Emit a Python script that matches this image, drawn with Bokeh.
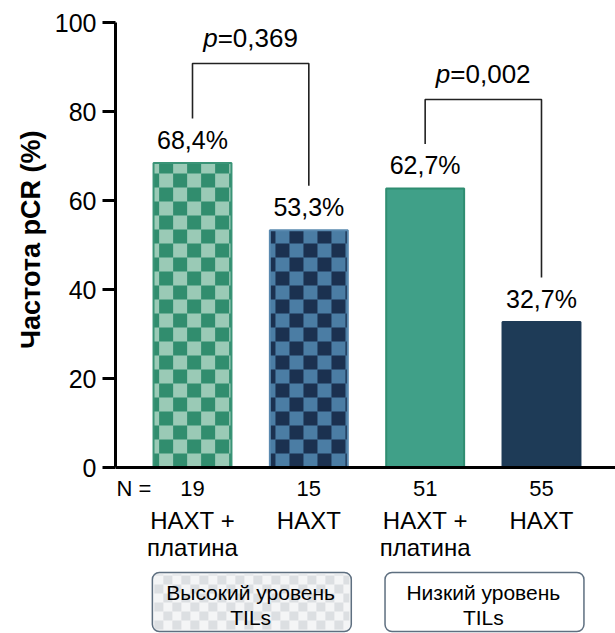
from bokeh.plotting import figure
from bokeh.models import Range1d, FixedTicker, Span, Title
from bokeh.core.properties import value
from bokeh.embed import file_html
from bokeh.resources import INLINE

# ---------------- data ----------------
bar_pos = [1, 2, 3, 4]
n_values = [19, 15, 51, 55]
pcr_rates = [68.4, 53.3, 62.7, 32.7]
treat_line1 = ["НАХТ +", "НАХТ", "НАХТ +", "НАХТ"]
treat_line2 = ["платина", "", "платина", ""]
group_line1 = ["Высокий уровень", "Низкий уровень"]
group_line2 = ["TILs", "TILs"]
group_bars = [(1, 2), (3, 4)]
p_values = ["0,369", "0,002"]
bracket_top = [90.8, 82.7]
y_ticks = [0, 20, 40, 60, 80, 100]
y_title = "Частота pCR (%)"

# ---------------- styling ----------------
FONT = "Liberation Sans"
bar_fill = ["#9acab6", "#4b7da4", "#40a088", "#1e3b57"]
bar_dark = ["#318d6e", "#1b3150", None, None]
bar_line = ["#3a9477", "#5a8ab0", "#2f8d71", "#1e3b57"]
BAR_W = 0.67

W, H = 615, 633
LEFT = 115
PX_PER_Y = 4.45
Y0_PX = 467
y_start = -(H - Y0_PX) / PX_PER_Y
y_end = Y0_PX / PX_PER_Y
PX_PER_X = 116.33
X1_PX = 192
x_start = 1 - (X1_PX - LEFT) / PX_PER_X
x_end = x_start + (W - LEFT) / PX_PER_X

p = figure(width=W, height=H, output_backend="svg", toolbar_location=None,
           x_range=Range1d(x_start, x_end), y_range=Range1d(y_start, y_end),
           min_border_left=LEFT, min_border_right=0, min_border_top=0, min_border_bottom=0)
p.xaxis.visible = False
p.grid.visible = False
p.outline_line_color = None
p.background_fill_color = "white"
p.border_fill_color = "white"

yax = p.yaxis[0]
yax.ticker = FixedTicker(ticks=y_ticks)
yax.bounds = (0, 100)
yax.axis_line_width = 3
yax.axis_line_color = "black"
yax.major_tick_line_width = 3
yax.major_tick_line_color = "black"
yax.major_tick_out = 13
yax.major_tick_in = 0
yax.minor_tick_line_color = None
yax.major_label_text_font = FONT
yax.major_label_text_font_size = "25px"
yax.major_label_text_color = "black"
yax.major_label_standoff = 6

# y-axis title in the left panel
p.add_layout(Title(text=y_title, align="right", offset=130, standoff=12,
                   text_font=FONT, text_font_style="bold", text_font_size="27px",
                   text_color="black"), "left")

# x axis baseline
p.add_layout(Span(location=0, dimension="width", line_color="black", line_width=3))

# ---------------- bars ----------------
p.vbar(x=bar_pos, top=pcr_rates, width=BAR_W, fill_color=bar_fill, line_color=None)

cw = 14 / PX_PER_X
ch = 14 / PX_PER_Y
for i, (xc, top) in enumerate(zip(bar_pos, pcr_rates)):
    if bar_dark[i] is None:
        continue
    left, right = xc - BAR_W / 2, xc + BAR_W / 2
    L, R, B, T = [], [], [], []
    col = 0
    x0 = left - 0.6 * cw
    while x0 < right:
        row = 0
        y0 = 0.0
        while y0 < top:
            if (col + row) % 2 == 0:
                L.append(max(x0, left)); R.append(min(x0 + cw, right))
                B.append(y0); T.append(min(y0 + ch, top))
            y0 += ch
            row += 1
        x0 += cw
        col += 1
    p.quad(left=L, right=R, bottom=B, top=T, fill_color=bar_dark[i], line_color=None)

p.vbar(x=bar_pos, top=pcr_rates, width=BAR_W, fill_color=None,
       line_color=bar_line, line_width=2)

# value labels
pct_labels = [f"{v:.1f}".replace(".", ",") + "%" for v in pcr_rates]
p.text(x=bar_pos, y=pcr_rates, text=pct_labels, text_align="center",
       text_baseline="middle", y_offset=-23, text_font=value(FONT),
       text_font_size="25px", text_color="black")

# ---------------- brackets ----------------
for (a, b), tp, pv in zip(group_bars, bracket_top, p_values):
    ya = pcr_rates[a - 1] + 10
    yb = pcr_rates[b - 1] + 10
    p.line(x=[a, a, b, b], y=[ya, tp, tp, yb], line_color="#222222", line_width=1.6)
    xm = (a + b) / 2
    p.text(x=[xm], y=[tp], text=["p"], text_align="right", text_baseline="middle",
           x_offset=-33, y_offset=-25, text_font=value(FONT), text_font_style="italic",
           text_font_size="26px", text_color="black")
    p.text(x=[xm], y=[tp], text=["=" + pv], text_align="left", text_baseline="middle",
           x_offset=-33, y_offset=-25, text_font=value(FONT),
           text_font_size="26px", text_color="black")

# ---------------- labels below axis ----------------
zeros = [0] * len(bar_pos)
p.text(x=[x_start], y=[0], text=["N ="], text_align="left", text_baseline="middle",
       x_offset=1, y_offset=21, text_font=value(FONT), text_font_size="22px",
       text_color="black")
p.text(x=bar_pos, y=zeros, text=[str(n) for n in n_values], text_align="center",
       text_baseline="middle", y_offset=21, text_font=value(FONT),
       text_font_size="22px", text_color="black")
p.text(x=bar_pos, y=zeros, text=treat_line1, text_align="center",
       text_baseline="middle", y_offset=53, text_font=value(FONT),
       text_font_size="24px", text_color="black")
p.text(x=bar_pos, y=zeros, text=treat_line2, text_align="center",
       text_baseline="middle", y_offset=80, text_font=value(FONT),
       text_font_size="24px", text_color="black")

# ---------------- group boxes ----------------
box_top = -(572 - Y0_PX) / PX_PER_Y
box_bot = -(631 - Y0_PX) / PX_PER_Y
for gi, (a, b) in enumerate(group_bars):
    bl, br = a - BAR_W / 2 - 0.01, b + BAR_W / 2 + 0.03
    if gi == 0:
        p.quad(left=[bl], right=[br], bottom=[box_bot], top=[box_top],
               fill_color="#f4f5f6", line_color=None, border_radius=7)
        cwb, chb = 9 / PX_PER_X, 9 / PX_PER_Y
        L, R, B, T = [], [], [], []
        x0, col = bl + 2 / PX_PER_X, 0
        while x0 < br - 2 / PX_PER_X:
            y0, row = box_bot + 2 / PX_PER_Y, 0
            while y0 < box_top - 2 / PX_PER_Y:
                if (col + row) % 2 == 0:
                    L.append(x0); R.append(min(x0 + cwb, br - 2 / PX_PER_X))
                    B.append(y0); T.append(min(y0 + chb, box_top - 2 / PX_PER_Y))
                y0 += chb
                row += 1
            x0 += cwb
            col += 1
        p.quad(left=L, right=R, bottom=B, top=T, fill_color="#dcdfe2", line_color=None)
        p.quad(left=[bl], right=[br], bottom=[box_bot], top=[box_top],
               fill_color=None, line_color="#5e6f80", line_width=1.5, border_radius=7)
    else:
        p.quad(left=[bl], right=[br], bottom=[box_bot], top=[box_top],
               fill_color="white", line_color="#5e6f80", line_width=1.5, border_radius=7)
    xm = (a + b) / 2
    p.text(x=[xm], y=[0], text=[group_line1[gi]], text_align="center", text_baseline="middle",
           y_offset=125, text_font=value(FONT), text_font_size="21px", text_color="black")
    p.text(x=[xm], y=[0], text=[group_line2[gi]], text_align="center", text_baseline="middle",
           y_offset=150, text_font=value(FONT), text_font_size="21px", text_color="black")

open("out.html", "w").write(file_html(p, INLINE))
